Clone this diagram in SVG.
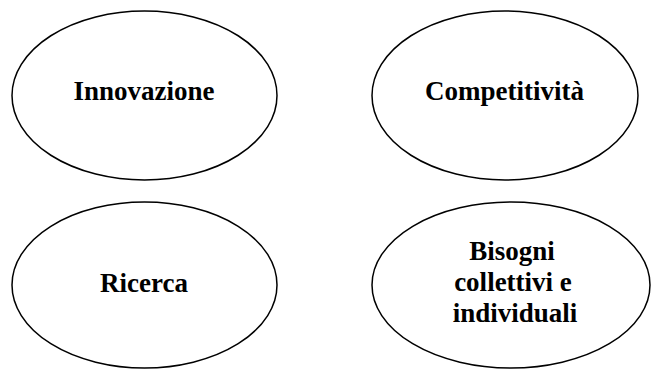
<svg xmlns="http://www.w3.org/2000/svg" width="651" height="370" viewBox="0 0 651 370">
<style>
.n ellipse{fill:#fff;stroke:#000;stroke-width:1.5}
.n text{font-family:"Liberation Serif","Times New Roman",serif;font-weight:bold;font-size:27px;fill:#000;text-anchor:middle}
</style>
<rect width="651" height="370" fill="#fff"/>
<g id="connectors"></g>
<g id="innovazione" class="n"><ellipse cx="144.5" cy="95.5" rx="132.5" ry="84.5"/><text x="144" y="100">Innovazione</text></g>
<g id="competitivita" class="n"><ellipse cx="505" cy="95.5" rx="133" ry="84.5"/><text x="504.5" y="100">Competitività</text></g>
<g id="ricerca" class="n"><ellipse cx="144.5" cy="285" rx="132.5" ry="83"/><text x="144" y="292">Ricerca</text></g>
<g id="bisogni" class="n"><ellipse cx="511" cy="285" rx="139" ry="83"/><text x="512" y="260">Bisogni</text><text x="513" y="291">collettivi e</text><text x="515" y="322">individuali</text></g>
</svg>
